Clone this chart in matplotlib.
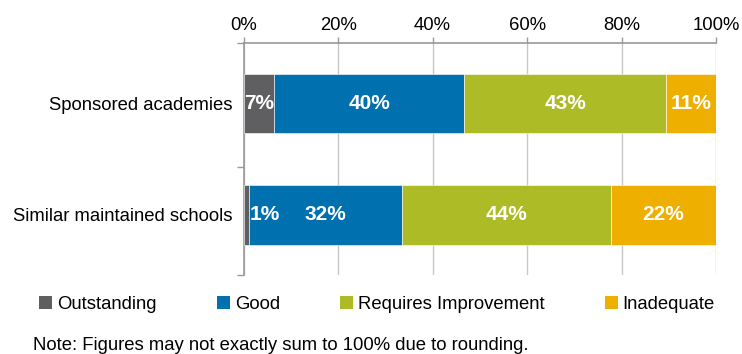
import matplotlib
matplotlib.use("Agg")
import matplotlib.pyplot as plt
from matplotlib.patches import Patch
from matplotlib.ticker import FuncFormatter

plt.rcParams['font.family'] = ['Liberation Sans', 'DejaVu Sans']

categories = ["Sponsored academies", "Similar maintained schools"]
series = ["Outstanding", "Good", "Requires Improvement", "Inadequate"]
colors = ["#5f5f61", "#0071ae", "#adbc26", "#eeaf00"]
outstanding = [6.5, 1.2]
good = [40.1, 32.3]
requires_improvement = [42.9, 44.3]
inadequate = [10.5, 22.2]
labels_outstanding = ["7%", "1%"]
labels_good = ["40%", "32%"]
labels_requires = ["43%", "44%"]
labels_inadequate = ["11%", "22%"]
xticks = [0, 20, 40, 60, 80, 100]
note = "Note: Figures may not exactly sum to 100% due to rounding."

values = [outstanding, good, requires_improvement, inadequate]
labels = [labels_outstanding, labels_good, labels_requires, labels_inadequate]

FS = 13.3
fig = plt.figure(figsize=(7.42, 3.54), dpi=100)
ax = fig.add_axes([0.3284, 0.2223, 0.965 - 0.3284, 0.8794 - 0.2223])

ypos = [0, 1]
left = [0.0, 0.0]
for s, (vals, labs, col) in enumerate(zip(values, labels, colors)):
    ax.barh(ypos, vals, left=left, height=0.533, color=col, edgecolor='white',
            linewidth=0.4, zorder=3, label=series[s])
    for i in range(len(ypos)):
        if vals[i] < 3:
            ax.text(left[i] + vals[i], ypos[i], labs[i], ha='left', va='center',
                    color='white', fontsize=15, fontweight='bold', zorder=4)
        else:
            ax.text(left[i] + vals[i] / 2, ypos[i], labs[i], ha='center', va='center',
                    color='white', fontsize=15, fontweight='bold', zorder=4)
    left = [l + v for l, v in zip(left, vals)]

ax.set_xlim(0, 100)
ax.set_ylim(1.542, -0.548)
ax.xaxis.tick_top()
ax.set_xticks(xticks)
ax.xaxis.set_major_formatter(FuncFormatter(lambda v, p: f"{int(v)}%"))
ax.tick_params(axis='x', which='major', length=4.5, width=1, color='#999999',
               labelsize=FS, pad=1.5, labelcolor='black')
ax.grid(axis='x', color='#c8c8c8', linewidth=1, zorder=0)

ax.set_yticks(ypos)
ax.set_yticklabels(categories)
ax.tick_params(axis='y', which='major', length=0, pad=8.4, labelsize=FS)
ax.set_yticks([-0.548, 0.566, 1.542], minor=True)
ax.tick_params(axis='y', which='minor', length=5, width=1, color='#999999')

for side in ['right', 'bottom']:
    ax.spines[side].set_visible(False)
for side in ['top', 'left']:
    ax.spines[side].set_color('#999999')
    ax.spines[side].set_linewidth(1.2)

handles = [Patch(facecolor=c, edgecolor='none') for c in colors]
fig.legend(handles, series, loc='center', bbox_to_anchor=(377 / 742, 1 - 304.7 / 354),
           ncol=4, frameon=False, fontsize=FS, handlelength=0.7, handleheight=0.7,
           handletextpad=0.27, columnspacing=3.26, borderaxespad=0, borderpad=0)

fig.text(33 / 742, 1 - 345 / 354, note, ha='left', va='center', fontsize=FS)

fig.savefig("out.png", dpi=100)
